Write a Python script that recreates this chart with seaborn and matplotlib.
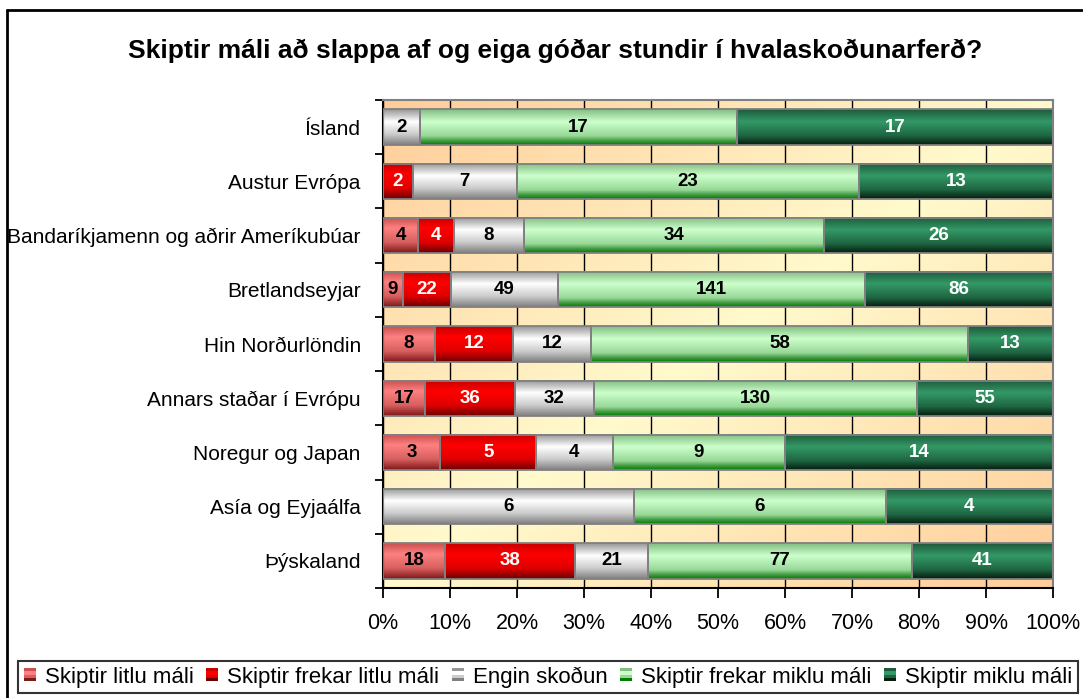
import numpy as np
import pandas as pd
import matplotlib
matplotlib.use("Agg")
import matplotlib.pyplot as plt
import seaborn as sns
from matplotlib.colors import LinearSegmentedColormap, to_rgb
from matplotlib.legend_handler import HandlerBase
from matplotlib.patches import Patch, Rectangle
from matplotlib.lines import Line2D

# data (answer counts per region)
regions = ["Ísland", "Austur Evrópa", "Bandaríkjamenn og aðrir Ameríkubúar",
           "Bretlandseyjar", "Hin Norðurlöndin", "Annars staðar í Evrópu",
           "Noregur og Japan", "Asía og Eyjaálfa", "Þýskaland"]
series_names = ["Skiptir litlu máli", "Skiptir frekar litlu máli", "Engin skoðun",
                "Skiptir frekar miklu máli", "Skiptir miklu máli"]
litlu = [0, 0, 4, 9, 8, 17, 3, 0, 18]
frekar_litlu = [0, 2, 4, 22, 12, 36, 5, 0, 38]
engin = [2, 7, 8, 49, 12, 32, 4, 6, 21]
frekar_miklu = [17, 23, 34, 141, 58, 130, 9, 6, 77]
miklu = [17, 13, 26, 86, 13, 55, 14, 4, 41]
title = "Skiptir máli að slappa af og eiga góðar stundir í hvalaskoðunarferð?"

# vertical shading of each series (top -> bottom), like the old excel 3d-ish bars
gradients = [
    [(0, "#c85050"), (0.3, "#ff8080"), (0.7, "#d86060"), (1, "#801818")],
    [(0, "#c80000"), (0.3, "#ff0000"), (0.7, "#e00000"), (1, "#6e0000")],
    [(0, "#969696"), (0.35, "#ffffff"), (0.7, "#cccccc"), (1, "#808080")],
    [(0, "#82be82"), (0.35, "#ccffcc"), (0.75, "#98d898"), (0.9, "#3c963c"), (1, "#008000")],
    [(0, "#1e5a3c"), (0.35, "#339966"), (0.75, "#1e6441"), (1, "#051e0f")],
]
label_colors = ["black", "white", "black", "black", "white"]

counts = pd.DataFrame(dict(zip(series_names, [litlu, frekar_litlu, engin, frekar_miklu, miklu])),
                      index=regions)
share = counts.div(counts.sum(axis=1), axis=0)
right = share.cumsum(axis=1)
left = right - share

sns.set_style("white")
plt.rcParams["font.family"] = ["Liberation Sans", "DejaVu Sans"]
plt.rcParams.update({"text.color": "black", "xtick.color": "black",
                     "ytick.color": "black", "axes.labelcolor": "black"})

fig = plt.figure(figsize=(10.83, 6.98), dpi=100)
ax = fig.add_axes([383 / 1083, 1 - 588 / 698, 670 / 1083, 488 / 698])

# background: peach corners, pale yellow along the other diagonal
peach = np.array(to_rgb("#ffcc99"))
pale = np.array(to_rgb("#fffacd"))
gx, gy = np.meshgrid(np.linspace(0, 1, 300), np.linspace(0, 1, 300))
t = np.abs((gx + gy) / 2 - 0.5) * 2
bg = pale[None, None, :] * (1 - t[..., None]) + peach[None, None, :] * t[..., None]
ax.imshow(bg, extent=(0, 1, 0, 1), transform=ax.transAxes, aspect="auto",
          zorder=0.1, origin="upper", interpolation="bilinear")

for k, name in enumerate(series_names):
    df = pd.DataFrame({"region": regions, "right": right[name].values})
    n0 = len(ax.patches)
    sns.barplot(data=df, x="right", y="region", order=regions, orient="h",
                color="white", width=0.65, errorbar=None, ax=ax)
    cmap = LinearSegmentedColormap.from_list(f"g{k}", gradients[k])
    grad = cmap(np.linspace(0, 1, 64))[:, None, :]
    for i, p in enumerate(ax.patches[n0:]):
        x0 = left[name].iloc[i]
        w = share[name].iloc[i]
        p.set_x(x0)
        p.set_width(w)
        p.set_facecolor("none")
        p.set_edgecolor("#808080")
        p.set_linewidth(1.3)
        p.set_zorder(3)
        if w > 0:
            y0 = p.get_y()
            ax.imshow(grad, extent=(x0, x0 + w, y0, y0 + p.get_height()), origin="lower",
                      aspect="auto", zorder=2.5, interpolation="bilinear")
            ax.text(x0 + w / 2, i, str(counts[name].iloc[i]), ha="center", va="center",
                    fontsize=13.5, fontweight="bold", color=label_colors[k], zorder=4)

ax.set_xlim(0, 1)
ax.set_ylim(8.5, -0.5)
ax.set_xlabel("")
ax.set_ylabel("")
ax.set_xticks(np.arange(0, 1.01, 0.1))
ax.set_xticklabels([f"{v}%" for v in range(0, 101, 10)])
ax.set_yticks(np.arange(-0.5, 9, 1), minor=True)
ax.grid(axis="x", color="black", linewidth=1.0, zorder=1)
ax.grid(axis="y", visible=False)
ax.set_axisbelow(True)
ax.tick_params(axis="x", direction="out", length=7, width=1.3, color="black", pad=11,
               labelsize=15.5, bottom=True, labelcolor="black")
ax.tick_params(axis="y", which="major", length=0, pad=16, labelsize=15, labelcolor="black")
ax.tick_params(axis="y", which="minor", direction="out", length=6, width=1.3,
               color="black", left=True)
for side in ["left", "bottom"]:
    ax.spines[side].set_color("black")
    ax.spines[side].set_linewidth(1.5)
for side in ["top", "right"]:
    ax.spines[side].set_color("#808080")
    ax.spines[side].set_linewidth(1.5)

fig.text(555 / 1083, 1 - 51 / 698, title, ha="center", va="center",
         fontsize=19, fontweight="bold", color="black")


class StripeHandler(HandlerBase):
    def __init__(self, colors):
        super().__init__()
        self.colors = colors

    def create_artists(self, legend, orig_handle, xdescent, ydescent, width, height,
                       fontsize, trans):
        n = len(self.colors)
        arts = []
        for j, c in enumerate(self.colors):
            arts.append(Rectangle((-xdescent, -ydescent + height * (n - 1 - j) / n),
                                  width, height / n, facecolor=c, edgecolor="none",
                                  transform=trans))
        return arts


handles = [Patch(label=n) for n in series_names]
hmap = {h: StripeHandler([c for _, c in g][:3] + [g[-1][1]]) for h, g in zip(handles, gradients)}
leg = fig.legend(handles=handles, handler_map=hmap, loc="center", ncol=5,
                 bbox_to_anchor=(18 / 1083, 1 - 696 / 698, 1060 / 1083, 38 / 698),
                 mode="expand", fontsize=16, frameon=True, fancybox=False,
                 handlelength=0.55, handleheight=0.55, handletextpad=0.4,
                 borderaxespad=0, borderpad=0.25, columnspacing=1.0)
leg.get_frame().set_edgecolor("black")
leg.get_frame().set_linewidth(1.5)
for txt in leg.get_texts():
    txt.set_color("black")

# outer chart border (left and top edges are visible in the original)
fig.add_artist(Line2D([7 / 1083, 7 / 1083], [0, 1 - 10 / 698], color="black", lw=2,
                      transform=fig.transFigure))
fig.add_artist(Line2D([7 / 1083, 1], [1 - 10 / 698, 1 - 10 / 698], color="black", lw=2,
                      transform=fig.transFigure))

fig.savefig("out.png", dpi=100, facecolor="white")
